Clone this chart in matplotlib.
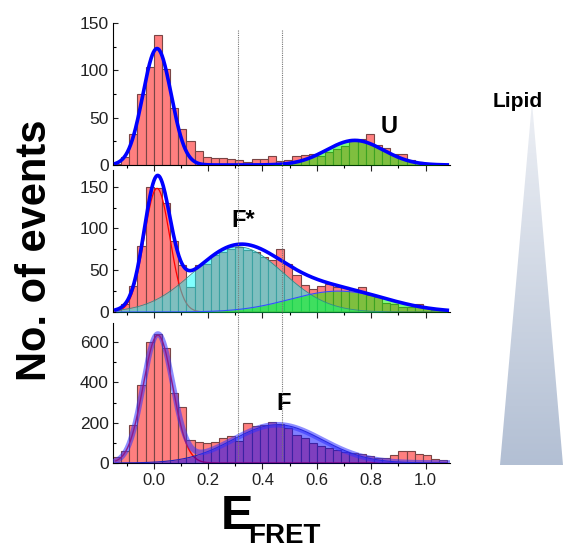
import numpy as np
import matplotlib.pyplot as plt
import matplotlib.transforms as mtransforms
from matplotlib.patches import Polygon
from matplotlib.lines import Line2D

plt.rcParams['font.family'] = ['Liberation Sans', 'DejaVu Sans']

# histogram bins (left edges, width 0.03)
bin_left = np.round(-0.15 + 0.03 * np.arange(41), 3)
bin_width = 0.03

counts_u = [1, 8, 33, 75, 103, 137, 101, 60, 38, 25, 15, 8, 7, 7, 6, 5, 3, 6, 6, 9, 4,
            5, 10, 11, 12, 9, 14, 17, 20, 27, 27, 33, 21, 18, 12, 12, 5, 3, 2, 1, 0]
counts_fstar = [3, 10, 31, 79, 150, 148, 130, 85, 56, 30, 56, 57, 68, 72, 76, 78, 74, 72, 66, 62, 75,
                58, 44, 32, 28, 31, 34, 30, 30, 28, 30, 20, 18, 11, 9, 6, 6, 10, 5, 2, 1]
counts_f = [30, 58, 190, 388, 603, 640, 570, 347, 278, 114, 106, 97, 105, 124, 132, 107, 198, 182, 190, 203, 195,
            174, 140, 124, 99, 83, 74, 66, 53, 50, 45, 36, 25, 25, 38, 58, 58, 46, 38, 21, 15]

# gaussian fit components: (amplitude, centre, sigma)
fit_u = [(123, 0.012, 0.052), (26, 0.74, 0.105)]
fit_fstar = [(148, 0.012, 0.047), (78, 0.31, 0.165), (25, 0.68, 0.18)]
fit_f = [(635, 0.015, 0.054), (190, 0.455, 0.165)]

state_lines = [0.31, 0.47]


def gauss(x, a, c, s):
    return a * np.exp(-(x - c) ** 2 / (2 * s ** 2))


xs = np.linspace(-0.14, 1.08, 600)
red = '#ff7f7f'
edge = '#7a4545'

fig = plt.figure(figsize=(5.63, 5.5), dpi=100)
L, W = 113 / 563, 337 / 563
ax1 = fig.add_axes([L, 1 - 165 / 550, W, 142 / 550])
ax2 = fig.add_axes([L, 1 - 312 / 550, W, 142 / 550])
ax3 = fig.add_axes([L, 1 - 463 / 550, W, 140 / 550])

# panel 1: U
ax1.bar(bin_left, counts_u, width=bin_width, align='edge', color=red, edgecolor=edge, lw=0.8, zorder=1)
g1, g2 = [gauss(xs, *p) for p in fit_u]
ax1.fill_between(xs, 0, g2, color='#00ff00', alpha=0.5, lw=0, zorder=3)
ax1.plot(xs, g1 + g2, color='#0000ff', lw=2.6, zorder=4)
ax1.text(0.865, 41, 'U', fontsize=17, fontweight='bold', ha='center', va='center')

# panel 2: F*
ax2.bar(bin_left, counts_fstar, width=bin_width, align='edge', color=red, edgecolor=edge, lw=0.8, zorder=1)
g1, g2, g3 = [gauss(xs, *p) for p in fit_fstar]
ax2.plot(xs, g1, color='#ff0000', lw=0.9, zorder=2)
ax2.fill_between(xs, 0, g2, color='#00ffff', alpha=0.5, lw=0, zorder=3)
ax2.fill_between(xs, 0, g3, color='#00ff00', alpha=0.5, lw=0, zorder=3)
ax2.plot(xs, g2, color='#2a8f8f', lw=0.6, zorder=3.5)
ax2.plot(xs, g3, color='#3050ff', lw=0.8, zorder=3.5)
ax2.plot(xs, g1 + g2 + g3, color='#0000ff', lw=2.6, zorder=4)
ax2.text(0.33, 109, 'F*', fontsize=17, fontweight='bold', ha='center', va='center')

# panel 3: F
ax3.bar(bin_left, counts_f, width=bin_width, align='edge', color=red, edgecolor=edge, lw=0.8, zorder=1)
g1, g2 = [gauss(xs, *p) for p in fit_f]
ax3.plot(xs, g1, color='#ff0000', lw=1.0, zorder=2)
ax3.fill_between(xs, 0, g2, color='#0000ff', alpha=0.5, lw=0, zorder=3)
ax3.plot(xs, g2, color='#2020c0', lw=0.8, zorder=3.5)
ax3.plot(xs, g1 + g2, color='#3030ff', lw=4, alpha=0.55, zorder=4)
ax3.text(0.476, 297, 'F', fontsize=17, fontweight='bold', ha='center', va='center')

ylims = [(0, 150), (0, 170), (0, 695)]
yticks = [[0, 50, 100, 150], [0, 50, 100, 150], [0, 200, 400, 600]]
yminor = [25, 25, 100]
for ax, yl, yt, ym in zip([ax1, ax2, ax3], ylims, yticks, yminor):
    ax.set_xlim(-0.15, 1.09)
    ax.set_ylim(*yl)
    ax.set_yticks(yt)
    ax.set_yticks(np.arange(0, yl[1] + 1, ym), minor=True)
    ax.set_xticks([0.0, 0.2, 0.4, 0.6, 0.8, 1.0])
    ax.set_xticks(np.arange(-0.1, 1.05, 0.1), minor=True)
    for s in ['top', 'right']:
        ax.spines[s].set_visible(False)
    ax.tick_params(axis='x', direction='out', length=4, width=0.8, labelsize=12, colors='#222222')
    ax.tick_params(axis='x', which='minor', direction='out', length=2.5, width=0.8)
    ax.tick_params(axis='y', direction='in', length=3.5, width=0.8, labelsize=12.5, pad=3, colors='#222222')
    ax.tick_params(axis='y', which='minor', direction='in', length=2, width=0.8)
    ax.patch.set_alpha(0)
for ax in [ax1, ax2]:
    ax.tick_params(axis='x', labelbottom=False)
ax3.set_xticklabels(['0.0', '0.2', '0.4', '0.6', '0.8', '1.0'])

# dotted reference lines across all panels
trans = mtransforms.blended_transform_factory(ax3.transData, fig.transFigure)
for xv in state_lines:
    fig.add_artist(Line2D([xv, xv], [1 - 30 / 550, 1 - 460 / 550], transform=trans,
                          color='#777777', lw=0.8, ls=(0, (1, 1)), zorder=5))

fig.text(35 / 563, 1 - 250 / 550, 'No. of events', rotation=90, fontsize=30,
         fontweight='bold', ha='center', va='center')
fig.text(221 / 563, 1 - 529 / 550, 'E', fontsize=35, fontweight='bold', ha='left', va='baseline')
fig.text(248 / 563, 1 - 543 / 550, 'FRET', fontsize=20, fontweight='bold', ha='left', va='baseline')
fig.text(518 / 563, 1 - 107 / 550, 'Lipid', fontsize=15, fontweight='bold', ha='center', va='baseline')

# lipid gradient wedge
axg = fig.add_axes([0, 0, 1, 1], zorder=-1)
axg.set_xlim(0, 563)
axg.set_ylim(550, 0)
axg.axis('off')
grad = np.linspace(0, 1, 256).reshape(-1, 1)
top_c = np.array([0.93, 0.94, 0.96])
bot_c = np.array([0.70, 0.75, 0.83])
img = top_c + grad[..., None] * (bot_c - top_c)
img = img.reshape(256, 1, 3)
im = axg.imshow(img, extent=[498, 564, 465, 102], aspect='auto', interpolation='bilinear')
tri = Polygon([[532, 102], [500, 465], [563, 465]], closed=True, transform=axg.transData)
im.set_clip_path(tri)

fig.savefig('out.png', dpi=100)
